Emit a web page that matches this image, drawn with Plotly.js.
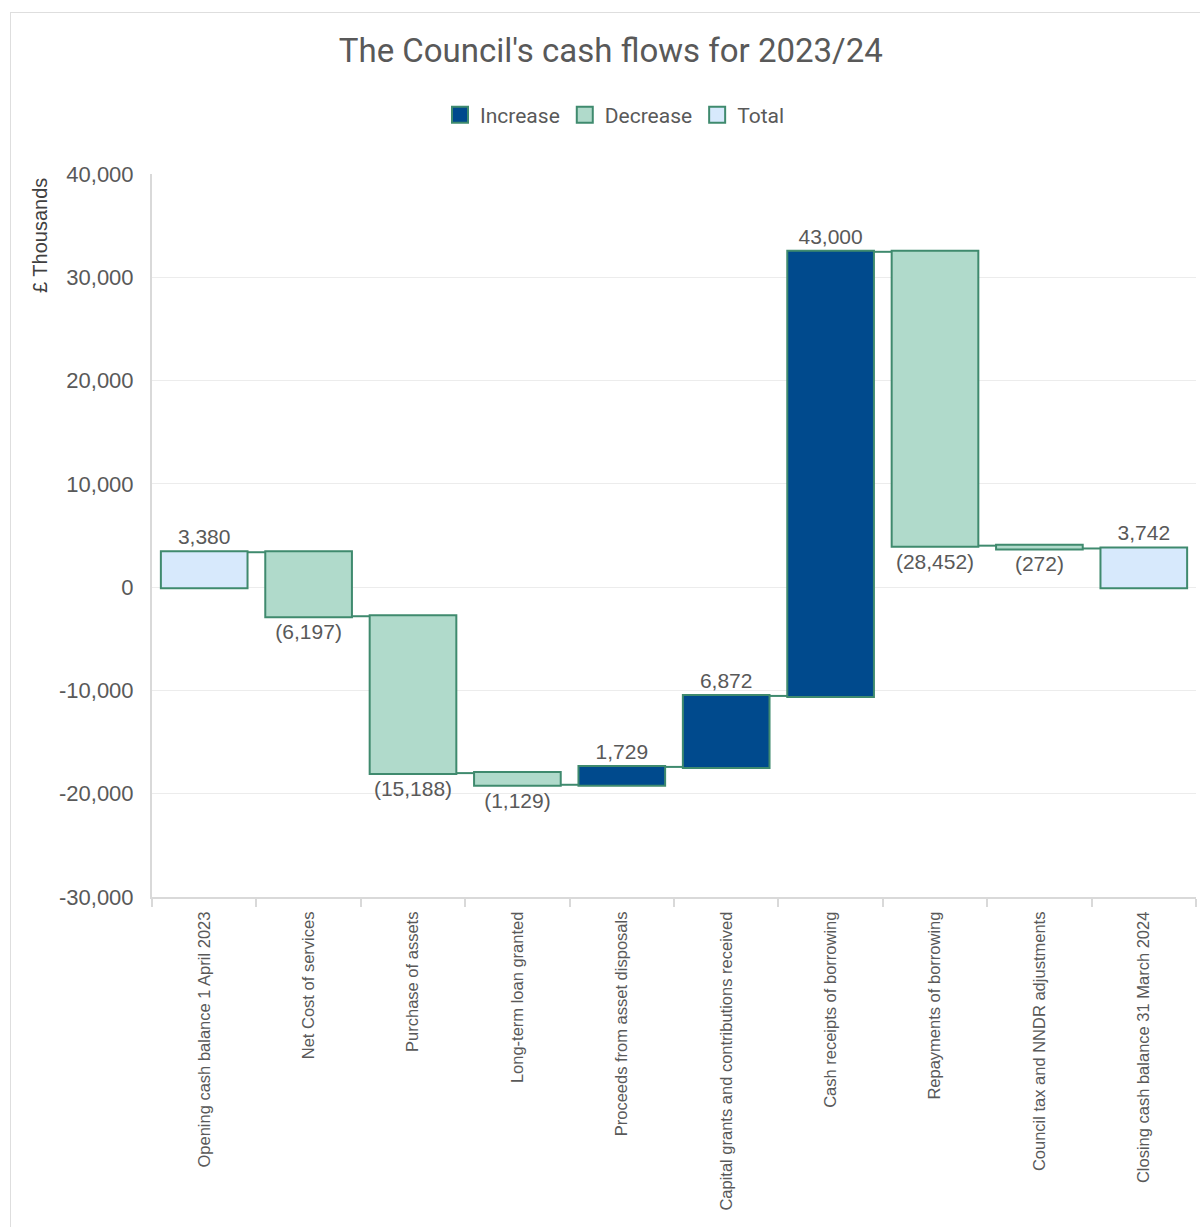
<!DOCTYPE html>
<html>
<head>
<meta charset="utf-8">
<script src="https://cdn.plot.ly/plotly-3.0.1.min.js"></script>
<style>
  html, body { margin: 0; padding: 0; background: #ffffff; }
  #frame { position: absolute; left: 10px; top: 12px; width: 1300px; height: 1300px; border: 1px solid #dedede; z-index: 0; }
  #chart { position: absolute; left: 0; top: 0; width: 1200px; height: 1227px; z-index: 1; }
</style>
</head>
<body>
<div id="frame"></div>
<div id="chart"></div>
<script>
const categories = [
  "Opening cash balance 1 April 2023",
  "Net Cost of services",
  "Purchase of assets",
  "Long-term loan granted",
  "Proceeds from asset disposals",
  "Capital grants and contributions received",
  "Cash receipts of borrowing",
  "Repayments of borrowing",
  "Council tax and NNDR adjustments",
  "Closing cash balance 31 March 2024"
];
const values = [3380, -6197, -15188, -1129, 1729, 6872, 43000, -28452, -272, 3742];
const measures = ["absolute", "relative", "relative", "relative", "relative", "relative", "relative", "relative", "relative", "total"];
const yTickVals = [-30000, -20000, -10000, 0, 10000, 20000, 30000, 40000];
const yTickText = ["-30,000", "-20,000", "-10,000", "0", "10,000", "20,000", "30,000", "40,000"];
const legendNames = ["Increase", "Decrease", "Total"];

const fmt = v => {
  const s = Math.abs(v).toLocaleString('en-GB');
  return v < 0 ? "(" + s + ")" : s;
};
const labels = values.map(fmt);

const outline = "#3f8a6e";
const colIncrease = "#004a8d";
const colDecrease = "#b0dacb";
const colTotal = "#d7e9fc";

const waterfall = {
  type: "waterfall",
  x: categories,
  y: values,
  measure: measures,
  text: labels,
  textposition: "outside",
  textfont: { family: "Liberation Sans, Arial, sans-serif", size: 21, color: "#595959" },
  cliponaxis: false,
  showlegend: false,
  hoverinfo: "x+text",
  increasing: { marker: { color: colIncrease, line: { color: outline, width: 2 } } },
  decreasing: { marker: { color: colDecrease, line: { color: outline, width: 2 } } },
  totals: { marker: { color: colTotal, line: { color: outline, width: 2 } } },
  connector: { mode: "between", line: { color: outline, width: 2 } }
};

const legendColors = [colIncrease, colDecrease, colTotal];
const legendTraces = legendNames.map((n, i) => ({
  type: "scatter",
  mode: "markers",
  name: n,
  x: [null],
  y: [null],
  marker: { symbol: "square", size: 16, color: legendColors[i], line: { color: outline, width: 2 } },
  showlegend: true,
  hoverinfo: "skip"
}));

const layout = {
  width: 1200,
  height: 1227,
  paper_bgcolor: "rgba(0,0,0,0)",
  plot_bgcolor: "rgba(0,0,0,0)",
  margin: { l: 152, r: 4, t: 174, b: 330 },
  font: { family: "Liberation Sans, Arial, sans-serif", color: "#595959" },
  title: {
    text: "The Council's cash flows for 2023/24",
    font: { family: "Roboto, Liberation Sans, sans-serif", size: 33, color: "#595959" },
    xref: "container", x: 0.509, xanchor: "center",
    yref: "container", y: 0.959, yanchor: "middle"
  },
  showlegend: true,
  legend: {
    orientation: "h",
    x: 0.4435, xanchor: "center",
    y: 1.0816, yanchor: "middle",
    font: { family: "Roboto, Liberation Sans, sans-serif", size: 21, color: "#595959" },
    itemsizing: "trace",
    itemwidth: 30,
    traceorder: "normal"
  },
  waterfallgap: 0.17,
  xaxis: {
    type: "category",
    categoryorder: "array",
    categoryarray: categories,
    tickangle: -90,
    tickfont: { family: "Liberation Sans, Arial, sans-serif", size: 16.5, color: "#595959" },
    showline: true,
    linecolor: "#d9d9d9",
    linewidth: 2,
    ticks: "outside",
    tickson: "boundaries",
    ticklen: 8,
    tickcolor: "#d9d9d9",
    tickwidth: 2,
    ticklabelstandoff: 6,
    showgrid: false,
    zeroline: false,
    fixedrange: true
  },
  yaxis: {
    range: [-30000, 40000],
    tickvals: yTickVals,
    ticktext: yTickText,
    tickfont: { family: "Liberation Sans, Arial, sans-serif", size: 22, color: "#595959" },
    showline: true,
    linecolor: "#d9d9d9",
    linewidth: 2,
    ticks: "",
    ticklabelstandoff: 12,
    showgrid: true,
    gridcolor: "#ececec",
    gridwidth: 1,
    zeroline: false,
    fixedrange: true
  },
  annotations: [{
    text: "£ Thousands",
    xref: "paper", yref: "paper",
    x: -0.1073, y: 0.9156,
    xanchor: "center", yanchor: "middle",
    textangle: -90,
    showarrow: false,
    font: { family: "Liberation Sans, Arial, sans-serif", size: 20, color: "#404040" }
  }]
};

Plotly.newPlot("chart", [waterfall].concat(legendTraces), layout, { displayModeBar: false, staticPlot: true });
</script>
</body>
</html>
